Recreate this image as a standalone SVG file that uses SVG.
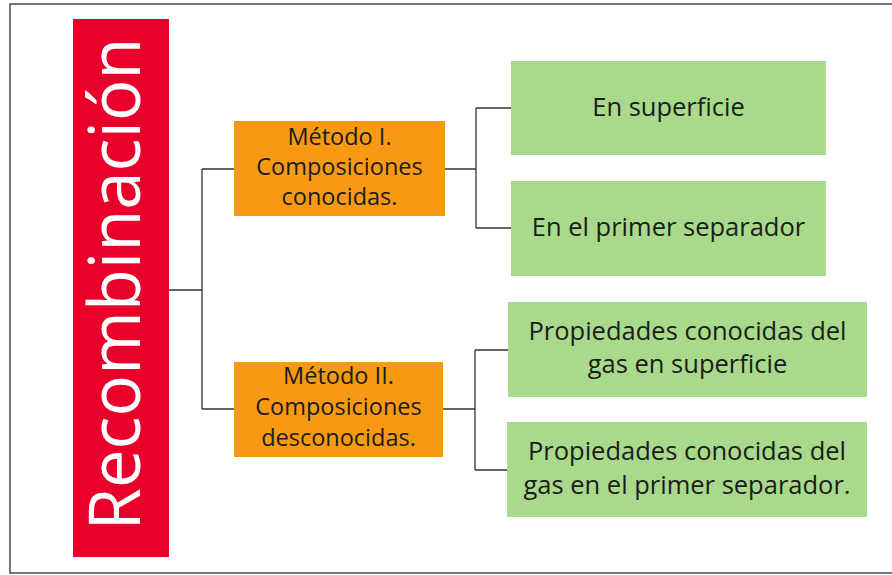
<svg xmlns="http://www.w3.org/2000/svg" width="892" height="575" viewBox="0 0 892 575">
<style>
.frame{fill:#fff;stroke:#4a4a4a;stroke-width:1.5}
.title{fill:#e8002a}
.m{fill:#f79a12}
.g{fill:#a9da8b}
.t{font-family:"Open Sans","Liberation Sans",sans-serif;fill:#1c1c1c;text-anchor:middle}
.tm{font-size:23.5px}
.tg{font-size:25.5px}
.conn{fill:none;stroke:#333;stroke-width:1.3}
</style>
<rect class="frame" x="10" y="4" width="890" height="569"/>
<g id="recombinacion">
<rect class="title" x="73" y="19" width="96" height="538"/>
<text x="0" y="0" transform="translate(140,284) rotate(-90)" font-family="'Open Sans','Liberation Sans',sans-serif" font-size="72" fill="#fff" text-anchor="middle" textLength="493" lengthAdjust="spacingAndGlyphs">Recombinación</text>
</g>
<g id="connectors">
<path class="conn" d="M169,290 H202 M202,169 V409 M202,169 H234 M202,409 H234"/>
<path class="conn" d="M445,169 H476 M476,108 V228 M476,108 H511 M476,228 H511"/>
<path class="conn" d="M443,409 H475 M475,350 V470 M475,350 H508 M475,470 H507"/>
</g>
<g id="metodo1">
<rect class="m" x="234" y="121" width="211" height="95"/>
<text class="t tm" x="339.5" y="145">Método I.</text>
<text class="t tm" x="339.5" y="175">Composiciones</text>
<text class="t tm" x="339.5" y="205">conocidas.</text>
</g>
<g id="metodo2">
<rect class="m" x="234" y="362" width="209" height="95"/>
<text class="t tm" x="338.5" y="384">Método II.</text>
<text class="t tm" x="338.5" y="415">Composiciones</text>
<text class="t tm" x="338.5" y="446">desconocidas.</text>
</g>
<g id="superficie">
<rect class="g" x="511" y="61" width="315" height="94"/>
<text class="t tg" x="668.5" y="116">En superficie</text>
</g>
<g id="separador">
<rect class="g" x="511" y="181" width="315" height="95"/>
<text class="t tg" x="668.5" y="236">En el primer separador</text>
</g>
<g id="gas-superficie">
<rect class="g" x="508" y="302" width="359" height="95"/>
<text class="t tg" x="687.5" y="340">Propiedades conocidas del</text>
<text class="t tg" x="687.5" y="373">gas en superficie</text>
</g>
<g id="gas-separador">
<rect class="g" x="507" y="422" width="360" height="95"/>
<text class="t tg" x="687" y="460">Propiedades conocidas del</text>
<text class="t tg" x="687" y="494">gas en el primer separador.</text>
</g>
</svg>
